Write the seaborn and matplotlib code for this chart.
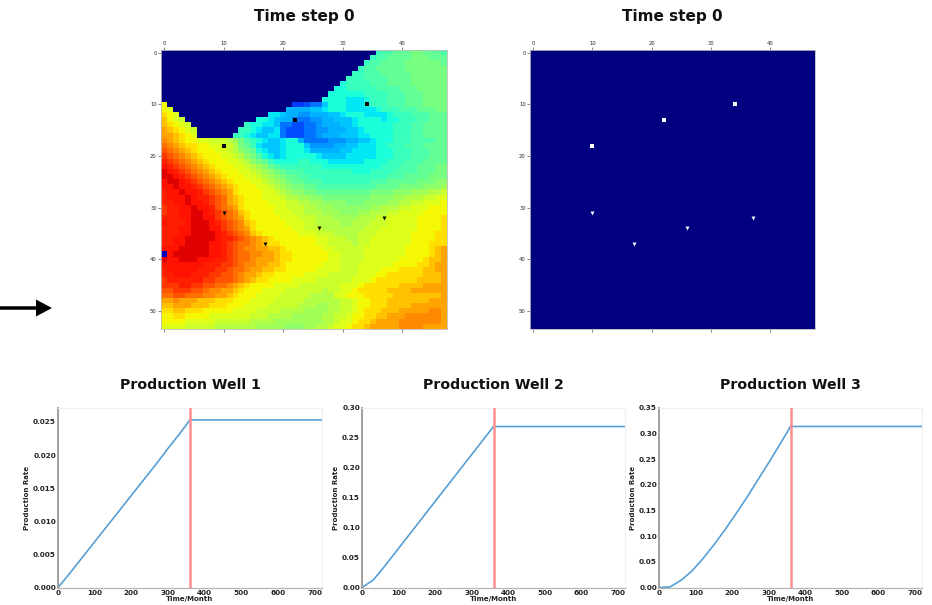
import numpy as np
import pandas as pd
import matplotlib
matplotlib.use("Agg")
import matplotlib.pyplot as plt
import seaborn as sns

# pressure field, one base-36 digit per cell (0 = inactive cell), digit -> value through field_levels
field_levels = [0, .03, .05, .08, .10, .13, .18, .20, .24, .27, .30, .32, .355, .385, .42, .445, .47, .495,
                .52, .545, .57, .595, .62, .645, .675, .705, .735, .765, .79, .82, .85, .875, .89, .915, .94, .97]
field_rows = [
    '0'*36 + "effggghhgggf",
    '0'*35 + "effgggghhhggg",
    '0'*34 + "effgggghhhhhhg",
    '0'*33 + "effggggghhhhhhh",
    '0'*32 + "eefffggggghhhhhh",
    '0'*31 + "eeeffffgggghhhhhh",
    '0'*30 + "deeeefffgggghhhhhh",
    '0'*29 + "ddeeeeeffffggghhhhh",
    '0'*28 + "ddddddeeeefffggghhhh",
    '0'*27 + "ddddcccdeeefffggghhhh",
    "n" + '0'*21 + "66788" + "bdddcccdeeefffggghhhh",
    "nm" + '0'*19 + "aaaabbcdddcccccdeeefffggghh",
    "onm" + '0'*15 + "ccbaa99aaabbcdddccccdeeefffggg",
    "pnml" + '0'*12 + "ddcbaa88899aabbbcddddcddeeeffggg",
    "ponml" + '0'*9 + "eddccb8877889aaabbcddddddeeeffgggg",
    "qponml" + '0'*7 + "eedcbbc87778899aaabbcdddddeeeffgggg",
    "qqponm" + '0'*6 + "eedcbbcc8777889aaabbbccddddeeeffgggg",
    "rqponnmmlllk" + "jhfedcbbcdda8888999aabbcdddeeeffffgg",
    "srqpoonnmmll" + "khgecbbbcdddb9999aabbcccddeeefffgggg",
    "tsrqponnnmml" + "kihgdcbbcdddcaaaaabbccccdddeeefffggg",
    "utsrqponnnmm" + "lkihfdcbcdddddcbbbbcccccdddeeefffggg",
    "vutsrqponnnm" + "mlkihgeddddeedddccccccddddeeefffgggg",
    "wvutsrqponnn" + "mmlkjigfeeeeeeeddddddddddeeefffggghh",
    "xwvutsrqponn" + "nmmlkjihgfffeeeeeeeedddeeeeffffggghh",
    "xxwvutsrqpon" + "nnmmlkjihggffeeeeeeeeeeeeefffgggghhh",
    "wxxwvutsrqpo" + "nnnmmlkjihggfffeeeeeeeefffggggghhhii",
    "wwxwwvutsrqp" + "onnnmmlkjihhggffffffffffgggghhhhiiij",
    "vwwxwwvutsrq" + "onnnnmmlkjiihhggggggggghhhhiiijjjkkl",
    "vwwwxwvvutsq" + "ponnnmmmlkkjjiihhhhhhhhiiiijjkkkllmm",
    "vvwwxwwvutsq" + "ponnnnmmmllkkjjiiiihhhiiiijjkkllmmmn",
    "uvvwwxwwvtsr" + "qonnnnnmmlllkkjjjiiiiiijjkkkllmmmnnn",
    "uvvwwxxwvuts" + "rponnnnmmmllkkkjjjiiijjkkkllmmmmnnnn",
    "vvvwwxxwwuts" + "rqonnnnnmmmlllkkkjjjjkkkllmmmmmnnnno",
    "wvvvwxxxwvut" + "srponnnnnmmmllkkkkjjkkklllmmmmmnnnno",
    "vvvwwxxxwwut" + "srqonnnnnnmmlllkkkkkkklllmmmmmmnnnno",
    "vvvwwxxxxwvu" + "tsrponnnnnnmmmlllkkkklllmmmmmmnnnnoo",
    "vvwwxxxxxwvv" + "utsrqponnnnnnnmmlllkkllmmmmmmmnnnnoo",
    "vvwwxxxxwwvu" + "tssrqpoonnnnnnmmllllkllmmmmmmmnnnooo",
    "wwwxxxxxwwvu" + "tsrrqqpponnnnnnmmlllllmmmmmmmnnnnopq",
    "2wxxxxxxwwvu" + "tssrrqqpoonnnnnnmmllllmmmmmmmnnnnopq",
    "xwwxxxwwwvvu" + "tssrqqqpoonnnnnnmmllllmmmmmmnnnnoppq",
    "wwwwwwwvvvuu" + "tsrrqqpponnnnnnmmmlllmmmmmmnnnnoopqq",
    "vwwwwwvvvuut" + "ssrqqppoonnnnnmmmmlllmmmmnnnooooppqq",
    "vvwwwvvvuutt" + "srqqpoonnnnnmmmmlllllmmmnnoooooopppq",
    "uvvvvvvuuttt" + "srqpoonnnnmmmmllllllmmmnoooooooppppq",
    "uuuvvuuttssr" + "qponnnnmmmmlllllllmmmnooooooppppqqqq",
    "ttuuuttsrrqq" + "ponnnmmmmllllllkllmmnoooooppppqqqqqq",
    "ssttsssrrqqp" + "onnnmmmmlllllkkkkmmnnnoooooppppppppq",
    "qqrqqqpppooo" + "nnnmmmmlllllkkkkkkllmnnooopppppppqqq",
    "ppqqqpppooon" + "nnmmmmlllllkkkjjkkllmnnoooppppqqqqqq",
    "ooppooonnnnn" + "mmmmllllkkkkjjjjkkllmnooopppqqqqqrrq",
    "nnoonnnnmmmm" + "mmmlllkkkkjjjjjkkllmnnooppqqqrrrrrrq",
    "nnnnmmmmmlll" + "lllkkkkjjjjjjjjkklmmnoopqqqqrrrrrrrq",
    "mmmmlllllkkk" + "kkkkjjjjjiiijjkklmmnoopqqqqqrrrrqqqq",
]

inj_x = [10, 22, 34]
inj_y = [18, 13, 10]
prod_x = [10, 17, 26, 37]
prod_y = [31, 37, 34, 32]

time_month = [0, 30, 60, 90, 120, 150, 180, 210, 240, 270, 300, 330, 360, 720]
well_1 = [0, .0020, .0041, .0062, .0083, .0104, .0125, .0146, .0167, .0188, .0210, .0231, .0253, .0253]
well_2 = [0, .012, .034, .0575, .081, .1045, .128, .1515, .175, .1985, .222, .2455, .269, .269]
well_3 = [0, .001, .014, .032, .056, .083, .112, .143, .175, .209, .243, .278, .314, .314]
well_names = ['Production Well 1', 'Production Well 2', 'Production Well 3']
well_ylims = [.0271, .30, .35]
well_yticks = [[0, .005, .010, .015, .020, .025],
               [0, .05, .10, .15, .20, .25, .30],
               [0, .05, .10, .15, .20, .25, .30, .35]]
well_fmt = ['%.3f', '%.2f', '%.2f']

W, H = 932, 605


def box(fig, x0, x1, y0, y1):
    # pixel box to figure fractions
    return fig.add_axes([x0 / W, 1 - y1 / H, (x1 - x0) / W, (y1 - y0) / H])


def draw_field(ax, data, well_color):
    sns.heatmap(data, ax=ax, cmap='jet', vmin=0, vmax=1, cbar=False,
                xticklabels=False, yticklabels=False)
    ax.scatter(np.array(inj_x) + .5, np.array(inj_y) + .5, marker='s', s=12, color=well_color, linewidths=0)
    ax.scatter(np.array(prod_x) + .5, np.array(prod_y) + .5, marker='v', s=8, color=well_color, linewidths=0)
    ax.set_xticks(np.arange(0, 41, 10) + .5, labels=[str(v) for v in range(0, 41, 10)])
    ax.set_yticks(np.arange(0, 51, 10) + .5, labels=[str(v) for v in range(0, 51, 10)])
    ax.tick_params(axis='x', top=True, bottom=True, labeltop=True, labelbottom=False,
                   labelsize=3.8, length=2, width=.5, pad=1, color='#555555', labelrotation=0)
    ax.tick_params(axis='y', left=True, labelsize=3.8, length=2, width=.5, pad=1,
                   color='#555555', labelrotation=0)
    for s in ax.spines.values():
        s.set_visible(True)
        s.set_linewidth(.6)
        s.set_color('#bbbbbb')
    ax.set_title('Time step 0', fontsize=11, fontweight='bold', pad=0, y=1.105, color='#111111')


sns.set_style("white")
plt.rcParams['font.family'] = ['DejaVu Sans']
fig = plt.figure(figsize=(W / 100, H / 100), dpi=100)

field = np.array([[field_levels[int(c, 36)] for c in row] for row in field_rows])
draw_field(box(fig, 161, 447, 50, 329), field, 'black')
draw_field(box(fig, 530, 815, 50, 329), np.zeros_like(field), 'white')

well_boxes = [(58, 322), (362, 625), (659, 922)]
for i in range(3):
    ax = box(fig, well_boxes[i][0], well_boxes[i][1], 408, 587.5)
    df = pd.DataFrame({'t': time_month, 'rate': [well_1, well_2, well_3][i]})
    sns.lineplot(data=df, x='t', y='rate', ax=ax, color='#569fd6', linewidth=1.2)
    ax.axvline(360, color='#ff8f8f', linewidth=1.8, zorder=3)
    ax.set_xlim(0, 720)
    ax.set_ylim(0, well_ylims[i])
    ax.set_xticks(range(0, 701, 100))
    ax.set_yticks(well_yticks[i], labels=[well_fmt[i] % v for v in well_yticks[i]])
    ax.tick_params(labelsize=5.2, length=0, pad=1.5, labelcolor='#222222')
    for lab in ax.get_xticklabels() + ax.get_yticklabels():
        lab.set_fontweight('bold')
    ax.set_xlabel('Time/Month', fontsize=5, fontweight='bold', labelpad=0.5, color='#222222')
    ax.set_ylabel('Production Rate', fontsize=5, fontweight='bold', labelpad=2, color='#222222')
    ax.set_title(well_names[i], fontsize=10.2, fontweight='bold', y=1.105, pad=0, color='#111111')
    ax.spines['left'].set_color('#a0a0a0')
    ax.spines['left'].set_linewidth(1.4)
    ax.spines['bottom'].set_color('#b5b5b5')
    ax.spines['bottom'].set_linewidth(.9)
    ax.spines['top'].set_color('#f0f0f0')
    ax.spines['right'].set_color('#f0f0f0')

# black arrow on the left edge
fig.add_artist(matplotlib.patches.FancyArrow(
    0, 1 - 308 / H, 52 / W, 0, width=3.5 / H, head_width=17 / H, head_length=16 / W,
    length_includes_head=True, transform=fig.transFigure, color='black', linewidth=0))

fig.savefig('out.png', dpi=100)
